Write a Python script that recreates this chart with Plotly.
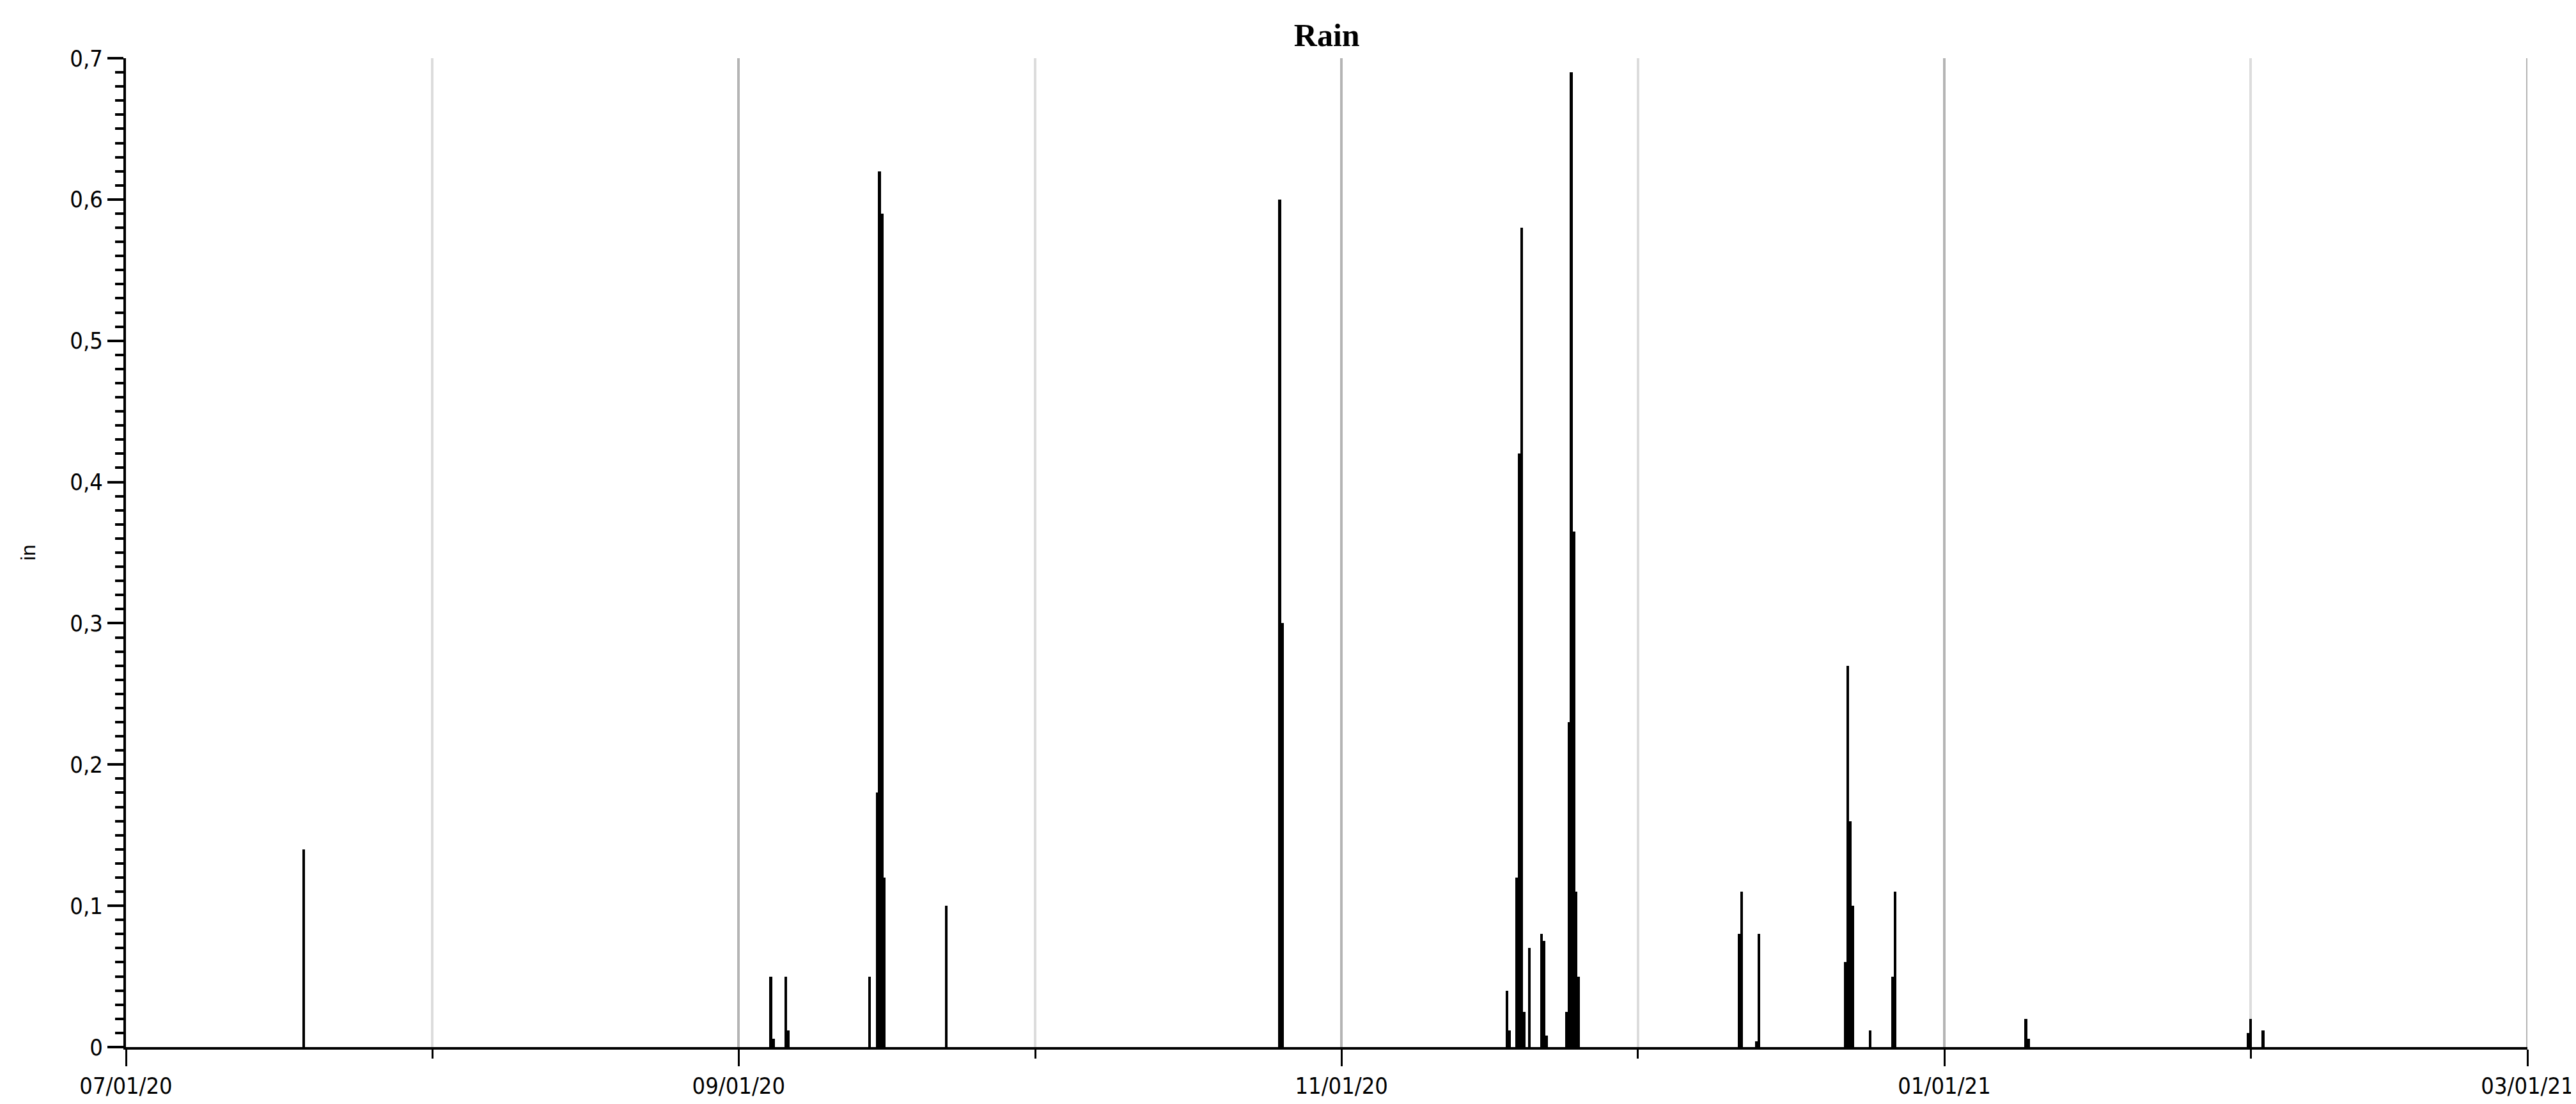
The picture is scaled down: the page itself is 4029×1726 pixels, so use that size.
import plotly.graph_objects as go

# 6-hourly rain totals (inches)
times = [
    "2020-07-19 00:00",
    "2020-09-04 06:00", "2020-09-04 12:00", "2020-09-05 18:00", "2020-09-06 00:00",
    "2020-09-14 06:00", "2020-09-15 00:00", "2020-09-15 06:00", "2020-09-15 12:00",
    "2020-09-15 18:00", "2020-09-22 00:00",
    "2020-10-25 18:00", "2020-10-26 00:00",
    "2020-11-17 18:00", "2020-11-18 00:00", "2020-11-18 18:00", "2020-11-19 00:00",
    "2020-11-19 06:00", "2020-11-19 12:00", "2020-11-20 00:00", "2020-11-21 06:00",
    "2020-11-21 12:00", "2020-11-21 18:00", "2020-11-23 18:00", "2020-11-24 00:00",
    "2020-11-24 06:00", "2020-11-24 12:00", "2020-11-24 18:00", "2020-11-25 00:00",
    "2020-12-11 06:00", "2020-12-11 12:00", "2020-12-13 00:00", "2020-12-13 06:00",
    "2020-12-22 00:00", "2020-12-22 06:00", "2020-12-22 12:00", "2020-12-22 18:00",
    "2020-12-24 12:00", "2020-12-26 18:00", "2020-12-27 00:00",
    "2021-01-09 06:00", "2021-01-09 12:00",
    "2021-01-31 18:00", "2021-02-01 00:00", "2021-02-02 06:00",
]
rain_in = [
    0.14,
    0.05, 0.006, 0.05, 0.012,
    0.05, 0.18, 0.62, 0.59,
    0.12, 0.10,
    0.60, 0.30,
    0.04, 0.012, 0.12, 0.42,
    0.58, 0.025, 0.07, 0.08,
    0.075, 0.008, 0.025, 0.23,
    0.69, 0.365, 0.11, 0.05,
    0.08, 0.11, 0.004, 0.08,
    0.06, 0.27, 0.16, 0.10,
    0.012, 0.05, 0.11,
    0.02, 0.006,
    0.01, 0.02, 0.012,
]

x_start = "2020-07-01"
x_end = "2021-03-01"
title_text = "Rain"
y_label = "in"

bar_ms = int(6.5 * 3600 * 1000)
tick_font = dict(family="DejaVu Sans Condensed, Liberation Sans", size=36, color="black")

fig = go.Figure()
fig.add_trace(
    go.Bar(
        x=times,
        y=rain_in,
        width=[bar_ms] * len(times),
        marker=dict(color="black", line=dict(width=0)),
        showlegend=False,
    )
)

# plotly leaves out the grid line sitting on the right edge, so draw it
fig.add_shape(
    type="line", xref="x", yref="paper",
    x0=x_end, x1=x_end, y0=0, y1=1,
    line=dict(color="#b4b4b4", width=4),
    layer="below",
)

fig.update_layout(
    width=4029,
    height=1726,
    margin=dict(l=189, r=84, t=83, b=97),
    paper_bgcolor="white",
    plot_bgcolor="white",
    separators=",.",
    bargap=0,
    title=dict(
        text=f"<b>{title_text}</b>",
        x=0.5131,
        xanchor="center",
        y=1 - 46 / 1726,
        yanchor="middle",
        font=dict(family="Liberation Serif", size=50, color="black"),
    ),
)

fig.update_xaxes(
    type="date",
    range=[x_start, x_end],
    automargin=False,
    tick0=x_start,
    dtick="M2",
    tickformat="%m/%d/%y",
    ticks="outside",
    ticklen=26,
    tickwidth=3,
    tickcolor="black",
    tickfont=tick_font,
    ticklabeloverflow="allow",
    showgrid=True,
    gridcolor="#b4b4b4",
    gridwidth=4,
    showline=True,
    linecolor="black",
    linewidth=4,
    zeroline=False,
    minor=dict(
        dtick="M1",
        tick0=x_start,
        ticks="outside",
        ticklen=14,
        tickwidth=3,
        tickcolor="black",
        showgrid=True,
        gridcolor="#dcdcdc",
        gridwidth=4,
    ),
)

fig.update_yaxes(
    range=[0, 0.7],
    automargin=False,
    dtick=0.1,
    ticks="outside",
    ticklen=25,
    tickwidth=4,
    tickcolor="black",
    tickfont=tick_font,
    showgrid=False,
    showline=True,
    linecolor="black",
    linewidth=4,
    zeroline=False,
    title=dict(text=y_label, font=dict(family="Liberation Sans", size=32, color="black"), standoff=45),
    minor=dict(dtick=0.01, ticks="outside", ticklen=13, tickwidth=4, tickcolor="black", showgrid=False),
)

fig.write_html("out.html")
